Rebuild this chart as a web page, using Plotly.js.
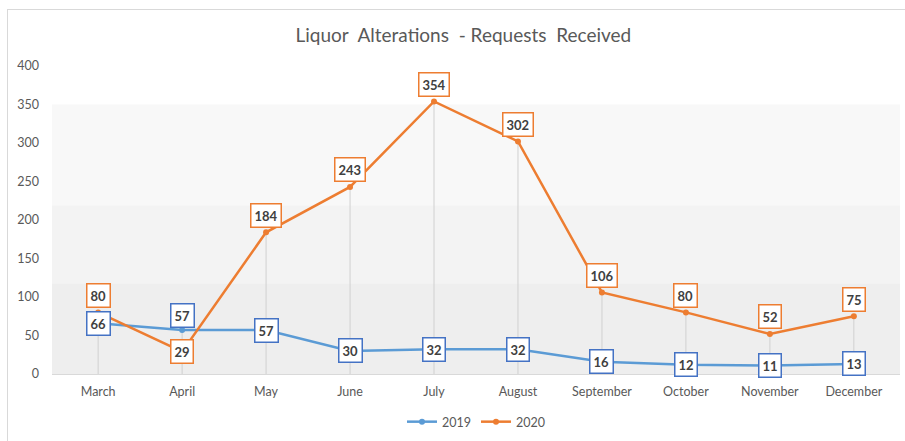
<!DOCTYPE html>
<html><head><meta charset="utf-8">
<script src="https://cdn.plot.ly/plotly-3.0.1.min.js"></script>
<style>
body{margin:0;background:#fff;}
#frame{position:absolute;left:7px;top:9px;width:910px;height:440px;border:1px solid #d9d9d9;box-sizing:border-box;}
#chart{position:absolute;left:0;top:0;width:905px;height:441px;}
</style></head>
<body><div id="frame"></div><div id="chart"></div>
<script>
const months = ["March","April","May","June","July","August","September","October","November","December"];
const values2019 = [66,57,57,30,32,32,16,12,11,13];
const values2020 = [80,29,184,243,354,302,106,80,52,75];
const labelShift2019 = [0,15,0,0,0,0,0,0,0,0];
const labelShift2020 = [17,0,17,17,17,17,17,17,17,17];
const yTicks = [0,50,100,150,200,250,300,350,400];
const bands = [[0,118,"#eeeeee"],[118,219,"#f3f3f3"],[219,350,"#f8f8f8"]];

const blue = "#5b9bd5", orange = "#ed7d31";
const dropX = [], dropY = [];
months.forEach((m,i)=>{dropX.push(m,m,null);dropY.push(Math.max(values2019[i],values2020[i]),0,null);});

const traces = [
 {x:dropX,y:dropY,mode:"lines",line:{color:"#d0d0d0",width:1},hoverinfo:"skip",showlegend:false},
 {x:months,y:values2019,name:"2019",mode:"lines+markers",line:{color:blue,width:2.5},marker:{size:6,color:blue}},
 {x:months,y:values2020,name:"2020",mode:"lines+markers",line:{color:orange,width:2.5},marker:{size:6,color:orange}}
];

const ann = [];
function addLabels(vals, shifts, color){
 vals.forEach((v,i)=>ann.push({x:months[i],y:v,xref:"x",yref:"y",text:"<b>"+v+"</b>",showarrow:false,yshift:shifts[i],
  bgcolor:"#ffffff",bordercolor:color,borderwidth:1.5,borderpad:3,font:{family:"Lato, sans-serif",size:13,color:"#404040"}}));
}
addLabels(values2020,labelShift2020,orange);
addLabels(values2019,labelShift2019,"#4472c4");

const shapes = bands.map(b=>({type:"rect",xref:"paper",yref:"y",x0:0,x1:1,y0:b[0],y1:b[1],fillcolor:b[2],line:{width:0},layer:"below"}));

const layout = {
 width:905,height:441,margin:{l:52,r:5,t:66,b:67},
 paper_bgcolor:"rgba(0,0,0,0)",plot_bgcolor:"rgba(0,0,0,0)",
 title:{text:"Liquor  Alterations  - Requests  Received",x:0.512,xanchor:"center",y:0.92,yanchor:"middle",font:{family:"Lato, sans-serif",size:19,color:"#595959"}},
 xaxis:{type:"category",showgrid:false,showline:true,linecolor:"#d9d9d9",linewidth:1,ticks:"",ticklabelstandoff:6,tickfont:{family:"Lato, sans-serif",size:12.5,color:"#595959"},fixedrange:true},
 yaxis:{range:[0,400],tickvals:yTicks,showgrid:false,zeroline:false,showline:false,ticks:"",ticklabelstandoff:12,tickfont:{family:"Lato, sans-serif",size:12.5,color:"#595959"},fixedrange:true},
 legend:{orientation:"h",x:0.5,xanchor:"center",yref:"container",y:0.043,yanchor:"middle",font:{family:"Lato, sans-serif",size:12.5,color:"#595959"}},
 shapes:shapes,annotations:ann,showlegend:true
};
Plotly.newPlot("chart",traces,layout,{displayModeBar:false,staticPlot:true});
</script></body></html>
